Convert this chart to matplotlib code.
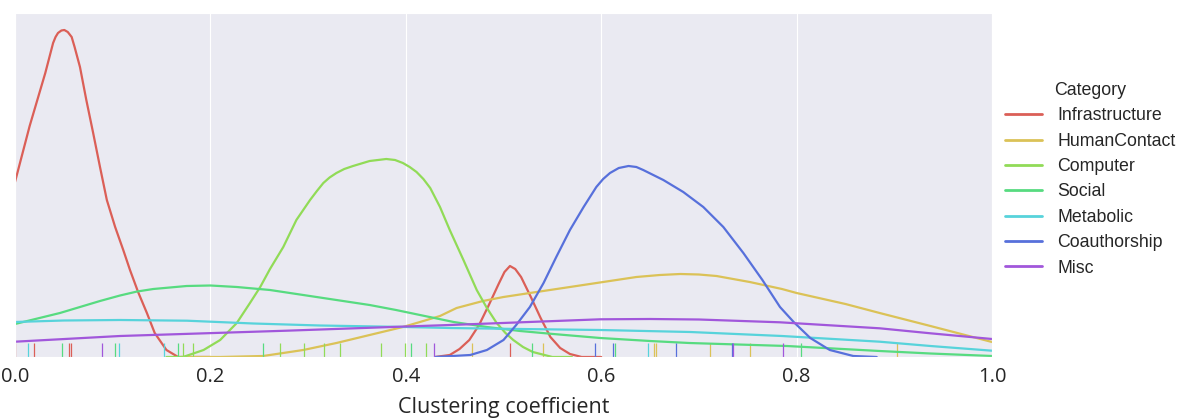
import matplotlib
matplotlib.use("Agg")
import matplotlib.pyplot as plt
from matplotlib.lines import Line2D
import seaborn as sns

# categories in legend order
categories = ["Infrastructure", "HumanContact", "Computer", "Social",
              "Metabolic", "Coauthorship", "Misc"]

# density curves (arbitrary y units, x = clustering coefficient)
# Infrastructure has two humps; the flat stretch between them is hidden in the original
infra_x = [0.0, 0.015, 0.031, 0.039, 0.0415, 0.044, 0.0475, 0.0505, 0.054, 0.058, 0.061,
           0.0665, 0.073, 0.080, 0.087, 0.094, 0.1025, 0.1108, 0.1177, 0.126, 0.135,
           0.143, 0.155, 0.167, 0.20]
infra_y = [175, 231, 284, 314, 320, 324, 326.5, 327, 325, 320, 310,
           290, 257, 224, 190, 157, 130, 107, 87, 65, 44,
           24, 7, 0, 0]
infra2_x = [0.43, 0.445, 0.455, 0.465, 0.475, 0.485, 0.495, 0.501, 0.5066, 0.512, 0.518,
            0.528, 0.538, 0.548, 0.558, 0.568, 0.58, 0.60]
infra2_y = [0, 2, 8, 17, 32, 52, 73, 85, 91, 88, 80,
            60, 39, 20, 9, 3, 0, 0]

human_x = [0.17, 0.21, 0.254, 0.295, 0.329, 0.363, 0.397, 0.4145, 0.435, 0.452, 0.479,
           0.5, 0.527, 0.568, 0.602, 0.636, 0.66, 0.681, 0.70, 0.718, 0.752, 0.785,
           0.80, 0.85, 0.885, 0.937, 1.0]
human_y = [0, 0, 1, 7, 14, 22, 30, 35, 41, 49, 56,
           60, 64, 70, 75, 80, 82, 83, 82.5, 81, 75, 68,
           64, 53, 44, 31, 15]

computer_x = [0.155, 0.172, 0.193, 0.21, 0.227, 0.2405, 0.251, 0.261, 0.2746, 0.288, 0.302,
              0.309, 0.3156, 0.322, 0.329, 0.337, 0.346, 0.363, 0.380, 0.389, 0.397,
              0.404, 0.411, 0.418, 0.425, 0.435, 0.445, 0.459, 0.4726, 0.483, 0.493,
              0.502, 0.51, 0.52, 0.53, 0.55, 0.57]
computer_y = [0, 0, 7, 17, 34, 54, 70, 88, 110, 137, 157,
              166, 174, 179.5, 184, 188, 191, 196, 198, 197, 194,
              190, 185, 178, 169, 150, 127, 97, 67, 49, 34,
              24, 17, 10, 5, 0, 0]

social_x = [0.0, 0.046, 0.087, 0.1075, 0.125, 0.1416, 0.1757, 0.2, 0.227, 0.261, 0.295,
            0.329, 0.363, 0.39, 0.4145, 0.449, 0.483, 0.517, 0.551, 0.599, 0.65, 0.69,
            0.79, 0.885, 0.937, 1.0]
social_y = [33, 44, 56, 61.5, 65.5, 68, 71, 71.5, 70, 67, 62,
            57, 52, 47, 42, 35, 30, 26, 23, 19, 16, 14,
            11, 6, 3.5, 1]

metabolic_x = [0.0, 0.05, 0.1075, 0.176, 0.244, 0.312, 0.4, 0.445, 0.517, 0.599, 0.691,
               0.785, 0.885, 0.937, 1.0]
metabolic_y = [35, 36.5, 37, 36.3, 33.5, 31.5, 30, 29, 28, 27, 25,
               21, 15.3, 11, 6.3]

coauth_x = [0.43, 0.466, 0.483, 0.5, 0.513, 0.527, 0.541, 0.554, 0.568, 0.582, 0.595,
            0.602, 0.609, 0.618, 0.628, 0.636, 0.643, 0.6636, 0.684, 0.7045, 0.725,
            0.7455, 0.765, 0.783, 0.797, 0.814, 0.834, 0.858, 0.882]
coauth_y = [0, 2, 7, 17, 32, 50, 74, 100, 127, 150, 170,
            178, 184, 189, 191, 190, 187, 177, 165, 150, 130,
            104, 77, 50, 35, 19, 7, 1, 0]

misc_x = [0.0, 0.1075, 0.278, 0.4, 0.445, 0.599, 0.65, 0.7, 0.783, 0.885, 0.937, 1.0]
misc_y = [15.3, 21, 26.3, 30.5, 32, 37.7, 38, 37.5, 34.7, 28.7, 23.7, 18]

# rug observations
infra_rug = [0.0, 0.019, 0.055, 0.057, 0.507]
human_rug = [0.468, 0.540, 0.654, 0.656, 0.711, 0.752, 0.903]
computer_rug = [0.172, 0.182, 0.271, 0.296, 0.316, 0.333, 0.375, 0.399, 0.421]
social_rug = [0.048, 0.102, 0.167, 0.254, 0.405, 0.529, 0.614, 0.804]
metabolic_rug = [0.013, 0.106, 0.153, 0.648]
coauth_rug = [0.594, 0.612, 0.677, 0.734]
misc_rug = [0.089, 0.429, 0.735, 0.786]

curves = [[(infra_x, infra_y), (infra2_x, infra2_y)], [(human_x, human_y)],
          [(computer_x, computer_y)], [(social_x, social_y)],
          [(metabolic_x, metabolic_y)], [(coauth_x, coauth_y)], [(misc_x, misc_y)]]
rugs = [infra_rug, human_rug, computer_rug, social_rug, metabolic_rug, coauth_rug, misc_rug]

sns.set_style("darkgrid")
colors = sns.color_palette("hls", 8)[:len(categories)]

fig = plt.figure(figsize=(11.83, 4.19), dpi=100)
ax = fig.add_axes([15 / 1183, 1 - 357 / 419, 977 / 1183, 344 / 419])

for parts, rug, col in zip(curves, rugs, colors):
    for xs, ys in parts:
        ax.plot(xs, ys, color=col, lw=1.6)
    # rug ticks: x in data, height in axes fraction
    ax.vlines(rug, 0, 0.04, color=col, lw=0.9, transform=ax.get_xaxis_transform())

ax.set_xlim(0, 1)
ax.set_ylim(0, 344)
ax.set_yticks([])
ax.set_xticks([0.0, 0.2, 0.4, 0.6, 0.8, 1.0])
ax.tick_params(axis="x", labelsize=14.5, labelcolor="#262626")
for lab in ax.get_xticklabels():
    lab.set_family("Open Sans")
ax.set_xlabel("Clustering coefficient", fontsize=15.5, family="Open Sans",
              color="#262626", labelpad=7.5)

handles = [Line2D([], [], color=c, lw=2) for c in colors]
leg = fig.legend(handles, categories, title="Category", loc="upper left",
                 bbox_to_anchor=(994 / 1183, 1 - 71 / 419), borderaxespad=0,
                 borderpad=0.62, frameon=False,
                 prop={"family": "Liberation Sans", "size": 12.8},
                 title_fontproperties={"family": "Liberation Sans", "size": 12.8},
                 handlelength=2.1, handletextpad=0.85, labelspacing=0.47)
for t in leg.get_texts():
    t.set_color("#262626")
leg.get_title().set_color("#262626")

fig.savefig("out.png", dpi=100)
